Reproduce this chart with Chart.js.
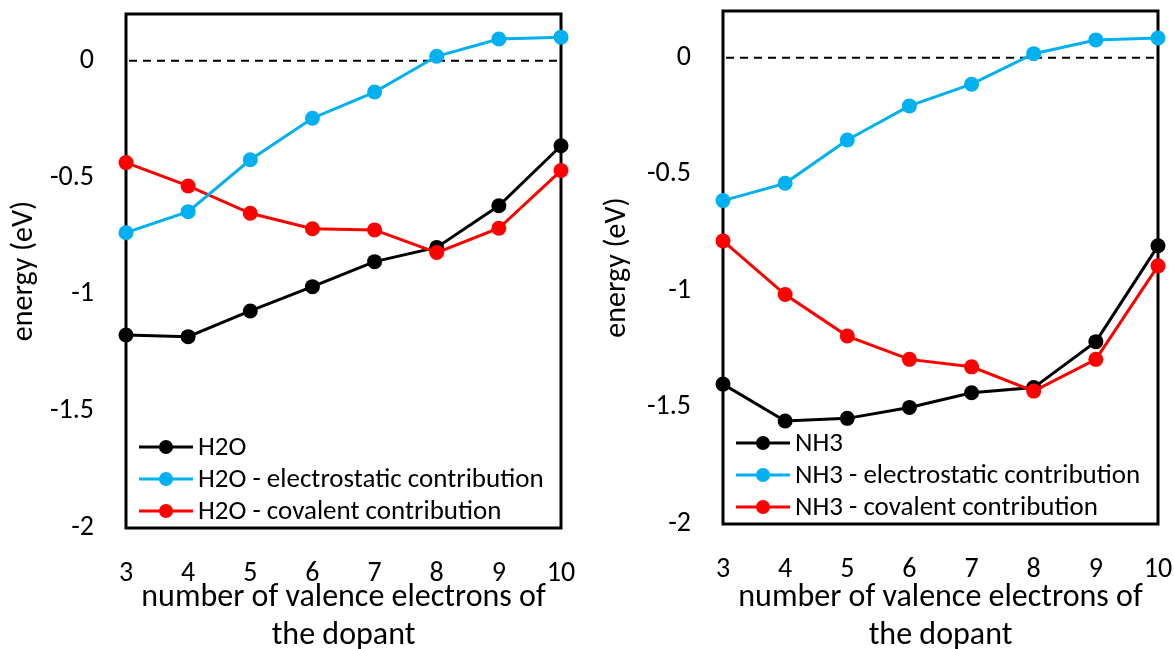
<!DOCTYPE html>
<html>
<head>
<meta charset="utf-8">
<script src="https://cdn.jsdelivr.net/npm/chart.js@4/dist/chart.umd.min.js"></script>
<style>
    html, body { margin: 0; padding: 0; background: #fff; overflow: hidden; }
    #wrap { position: relative; width: 1174px; height: 649px; overflow: hidden; }
    canvas { position: absolute; top: 0; }
</style>
</head>
<body>
<div id="wrap">
    <canvas id="chart_h2o" width="597" height="680" style="left:0px"></canvas>
    <canvas id="chart_nh3" width="577" height="680" style="left:597px"></canvas>
</div>
<script>
const electrons = [3, 4, 5, 6, 7, 8, 9, 10];
const yTicks = [-2, -1.5, -1, -0.5, 0];

const h2o_total = [-1.174, -1.181, -1.071, -0.967, -0.86, -0.799, -0.621, -0.364];
const h2o_elec = [-0.736, -0.646, -0.424, -0.246, -0.134, 0.019, 0.093, 0.101];
const h2o_cov = [-0.436, -0.536, -0.653, -0.719, -0.724, -0.821, -0.717, -0.47];

const nh3_total = [-1.40, -1.558, -1.547, -1.50, -1.437, -1.415, -1.218, -0.807];
const nh3_elec = [-0.613, -0.539, -0.353, -0.207, -0.114, 0.017, 0.076, 0.084];
const nh3_cov = [-0.786, -1.016, -1.194, -1.294, -1.326, -1.43, -1.294, -0.893];

const FONT = "Carlito, 'Open Sans', sans-serif";
const BLACK = "#000000";
const BLUE = "#00B0F0";
const RED = "#FF0000";

// box, dashed zero line and the legend inside the plot
const framePlugin = {
    id: 'frame',
    beforeDatasetsDraw(chart) {
        const ctx = chart.ctx;
        const a = chart.chartArea;
        const y0 = chart.scales.y.getPixelForValue(0);
        ctx.save();
        ctx.strokeStyle = BLACK;
        ctx.lineWidth = 2;
        ctx.setLineDash([8, 6]);
        ctx.beginPath();
        ctx.moveTo(a.left + 3, y0);
        ctx.lineTo(a.right - 3, y0);
        ctx.stroke();
        ctx.setLineDash([]);
        ctx.lineWidth = 3;
        ctx.strokeRect(a.left, a.top, a.right - a.left, a.bottom - a.top);
        ctx.restore();
    },
    afterDraw(chart) {
        const ctx = chart.ctx;
        const a = chart.chartArea;
        const rows = [81, 49, 17];
        ctx.save();
        ctx.font = "27px " + FONT;
        ctx.textBaseline = "middle";
        chart.data.datasets.forEach((ds, i) => {
            const y = a.bottom - rows[i];
            ctx.strokeStyle = ds.borderColor;
            ctx.lineWidth = 3;
            ctx.beginPath();
            ctx.moveTo(a.left + 13, y);
            ctx.lineTo(a.left + 67, y);
            ctx.stroke();
            ctx.fillStyle = ds.borderColor;
            ctx.beginPath();
            ctx.arc(a.left + 40, y, 7, 0, Math.PI * 2);
            ctx.fill();
            ctx.fillStyle = BLACK;
            ctx.fillText(ds.label, a.left + 72, y + 1);
        });
        ctx.restore();
    }
};

function make_ds(label, values, color, order) {
    return {
        label: label,
        data: values,
        borderColor: color,
        backgroundColor: color,
        pointBackgroundColor: color,
        pointBorderWidth: 0,
        pointRadius: 7.5,
        borderWidth: 3,
        order: order,
        clip: false
    };
}

function make_chart(id, name, total, elec, cov, pad) {
    const ctx = document.getElementById(id).getContext('2d');
    const data = {
        labels: electrons,
        datasets: [
            make_ds(name, total, BLACK, 3),
            make_ds(name + " - electrostatic contribution", elec, BLUE, 1),
            make_ds(name + " - covalent contribution", cov, RED, 2)
        ]
    };
    const options = {
        responsive: false,
        animation: false,
        events: [],
        layout: { padding: { top: pad.top, right: pad.right, left: 0, bottom: 0 } },
        plugins: { legend: { display: false }, tooltip: { enabled: false } },
        scales: {
            x: {
                offset: false,
                grid: { display: false, drawTicks: false },
                border: { display: false },
                ticks: { color: BLACK, padding: 29, maxRotation: 0, autoSkip: false, font: { family: FONT, size: 28 } },
                title: {
                    display: true,
                    text: ["number of valence electrons of", "the dopant"],
                    color: BLACK,
                    font: { family: FONT, size: 32, lineHeight: 1.19 },
                    padding: { top: 0, bottom: 25 }
                },
                afterFit: (scale) => {
                    scale.height = pad.xh;
                    scale.paddingLeft = 0;
                    scale.paddingRight = 0;
                }
            },
            y: {
                min: -2,
                max: 0.2,
                grid: { display: false, drawTicks: false },
                border: { display: false },
                afterBuildTicks: (scale) => { scale.ticks = yTicks.map(v => ({ value: v })); },
                ticks: { color: BLACK, padding: 32, callback: (v) => String(v), font: { family: FONT, size: 28 } },
                title: {
                    display: true,
                    text: "energy (eV)",
                    color: BLACK,
                    font: { family: FONT, size: 30, lineHeight: 1.2 },
                    padding: { top: pad.yt, bottom: 0 }
                },
                afterFit: (scale) => {
                    scale.width = 126;
                    scale.paddingTop = 0;
                    scale.paddingBottom = 0;
                }
            }
        }
    };
    return new Chart(ctx, { type: 'line', data: data, options: options, plugins: [framePlugin] });
}

make_chart('chart_h2o', 'H2O', h2o_total, h2o_elec, h2o_cov, { top: 14, right: 36, xh: 152, yt: 6 });
make_chart('chart_nh3', 'NH3', nh3_total, nh3_elec, nh3_cov, { top: 11, right: 16, xh: 156, yt: 2 });
</script>
</body>
</html>
